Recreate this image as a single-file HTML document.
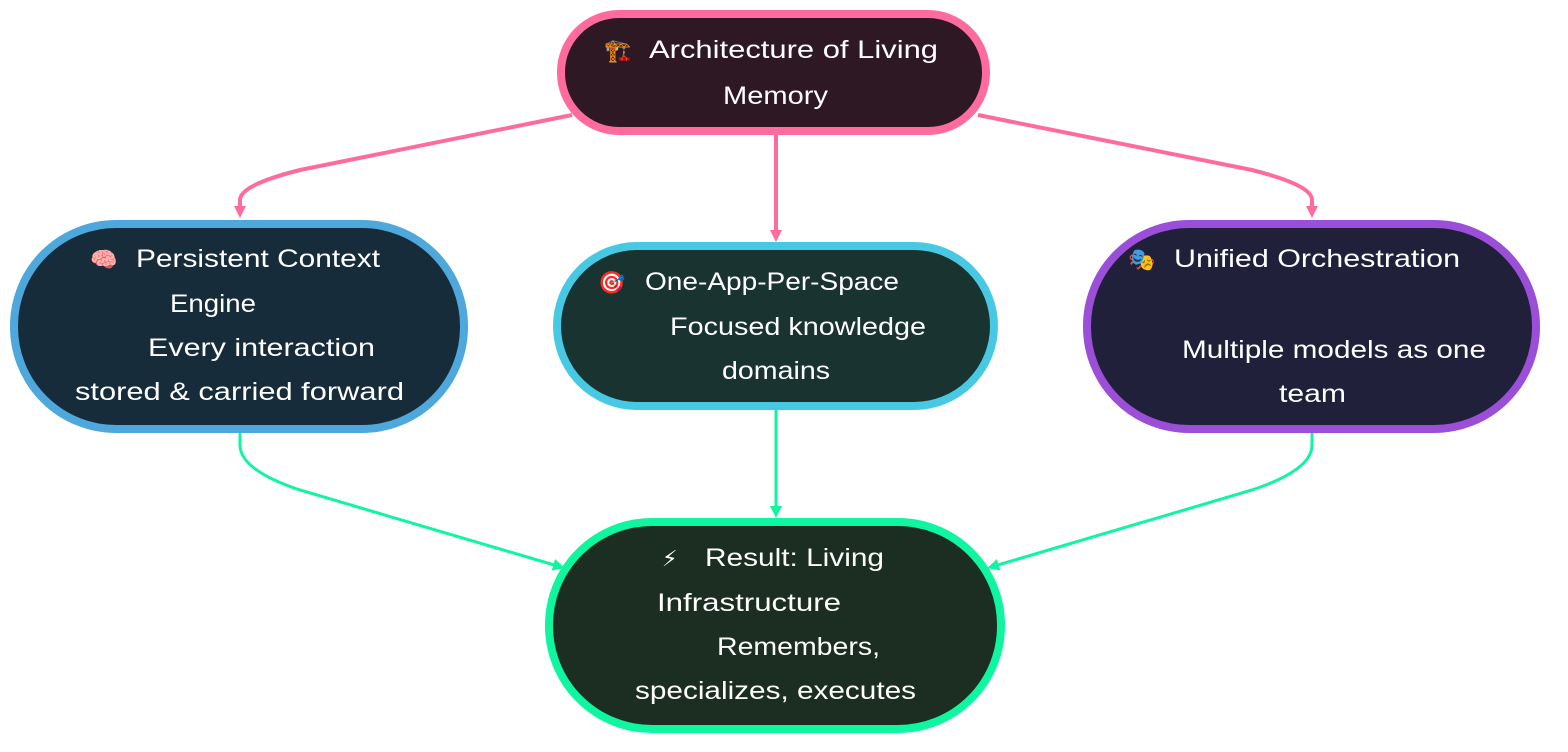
<!DOCTYPE html>
<html><head><meta charset="utf-8"><style>
html,body{margin:0;padding:0;background:#fff;}
svg{display:block}
text{font-family:"Liberation Sans","DejaVu Sans",sans-serif;font-size:25px;fill:#fff;}
text.e{font-size:22px;}
</style></head><body>
<svg width="1568" height="752" viewBox="0 0 1568 752" xmlns="http://www.w3.org/2000/svg">
<defs>
<marker id="ap" markerWidth="12" markerHeight="12" refX="8" refY="6" orient="auto" markerUnits="userSpaceOnUse"><path d="M0,0 L12,6 L0,12 z" fill="#ff6b9d"/></marker>
<marker id="ag" markerWidth="12" markerHeight="12" refX="8" refY="6" orient="auto" markerUnits="userSpaceOnUse"><path d="M0,0 L12,6 L0,12 z" fill="#10f5a0"/></marker>
</defs>
<g fill="none" stroke="#ff6b9d" stroke-width="4">
<path d="M572,115 L300,170 Q240,185 240,200 L240,214" marker-end="url(#ap)"/>
<path d="M776,135 L776,238" marker-end="url(#ap)"/>
<path d="M978,115 L1252,170 Q1312,185 1312,200 L1312,214" marker-end="url(#ap)"/>
</g>
<g fill="none" stroke="#10f5a0" stroke-width="3">
<path d="M240,433 L240,445 Q240,470 300,490 L561,567" marker-end="url(#ag)"/>
<path d="M776,410 L776,514" marker-end="url(#ag)"/>
<path d="M1312,433 L1312,445 Q1312,470 1252,490 L991,567" marker-end="url(#ag)"/>
</g>
<rect x="561" y="14" width="425" height="117" rx="58" fill="#2d1823" stroke="#ff6b9d" stroke-width="8"/>
<rect x="14" y="224" width="450" height="205" rx="102" fill="#172c3a" stroke="#4fa8dc" stroke-width="8"/>
<rect x="557" y="246" width="437" height="160" rx="80" fill="#183330" stroke="#48c9e3" stroke-width="8"/>
<rect x="1087" y="224" width="449" height="205" rx="102" fill="#21203a" stroke="#9b4fd8" stroke-width="8"/>
<rect x="549" y="522" width="452" height="207" rx="103" fill="#1c2e21" stroke="#10f5a0" stroke-width="8"/>

<text class="e" x="604" y="58">🏗️</text>
<text x="649" y="58" textLength="289" lengthAdjust="spacingAndGlyphs">Architecture of Living</text>
<text x="723" y="104" textLength="105" lengthAdjust="spacingAndGlyphs">Memory</text>

<text class="e" x="90" y="267">🧠</text>
<text x="136" y="267" textLength="244" lengthAdjust="spacingAndGlyphs">Persistent Context</text>
<text x="170" y="312" textLength="86" lengthAdjust="spacingAndGlyphs">Engine</text>
<text x="148" y="356" textLength="227" lengthAdjust="spacingAndGlyphs">Every interaction</text>
<text x="75" y="400" textLength="329" lengthAdjust="spacingAndGlyphs">stored &amp; carried forward</text>

<text class="e" x="598" y="290">🎯</text>
<text x="645" y="290" textLength="254" lengthAdjust="spacingAndGlyphs">One-App-Per-Space</text>
<text x="670" y="335" textLength="256" lengthAdjust="spacingAndGlyphs">Focused knowledge</text>
<text x="722" y="379" textLength="108" lengthAdjust="spacingAndGlyphs">domains</text>

<text class="e" x="1128" y="267">🎭</text>
<text x="1174" y="267" textLength="286" lengthAdjust="spacingAndGlyphs">Unified Orchestration</text>
<text x="1182" y="358" textLength="304" lengthAdjust="spacingAndGlyphs">Multiple models as one</text>
<text x="1279" y="402" textLength="67" lengthAdjust="spacingAndGlyphs">team</text>

<text class="e" x="662" y="566">⚡</text>
<text x="705" y="566" textLength="179" lengthAdjust="spacingAndGlyphs">Result: Living</text>
<text x="657" y="611" textLength="184" lengthAdjust="spacingAndGlyphs">Infrastructure</text>
<text x="717" y="655" textLength="163" lengthAdjust="spacingAndGlyphs">Remembers,</text>
<text x="635" y="699" textLength="281" lengthAdjust="spacingAndGlyphs">specializes, executes</text>
</svg>
</body></html>
